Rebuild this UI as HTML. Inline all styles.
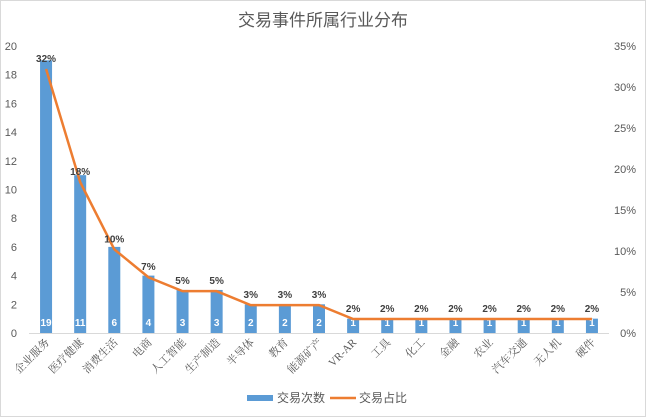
<!DOCTYPE html>
<html><head><meta charset="utf-8"><style>
body{margin:0;background:#fff}
svg{display:block;font-family:"Liberation Sans","Noto Sans CJK SC",sans-serif}
</style></head><body>
<svg width="646" height="417">
<rect x="0.5" y="0.5" width="645" height="416" fill="#fff" stroke="#d9d9d9"/>
<text x="323" y="26" text-anchor="middle" font-size="17" fill="#595959">交易事件所属行业分布</text>
<g id="g"></g>
<g>
<rect x="247" y="395" width="26" height="6" fill="#5b9bd5"/>
<text x="277" y="402" font-size="12" fill="#595959">交易次数</text>
<line x1="330" y1="398" x2="356" y2="398" stroke="#ed7d31" stroke-width="2.5"/>
<text x="359" y="402" font-size="12" fill="#595959">交易占比</text>
</g>
</svg>
<script>
const categories=["企业服务","医疗健康","消费生活","电商","人工智能","生产制造","半导体","教育","能源矿产","VR-AR","工具","化工","金融","农业","汽车交通","无人机","硬件"];
const counts=[19,11,6,4,3,3,2,2,2,1,1,1,1,1,1,1,1];
const shares=[32.2,18.4,10.2,6.8,5.1,5.1,3.4,3.4,3.4,1.7,1.7,1.7,1.7,1.7,1.7,1.7,1.7];
const leftTicks=[0,2,4,6,8,10,12,14,16,18,20];
const rightTicks=[0,5,10,15,20,25,30,35];
const NS="http://www.w3.org/2000/svg";
const g=document.getElementById('g');
const L=29,R=609,T=46,B=333;
const band=(R-L)/categories.length;
const xc=i=>L+band*(i+0.5);
const yL=v=>B-(v/20)*(B-T);
const yR=v=>B-(v/35)*(B-T);
function mk(t,a,txt){const e=document.createElementNS(NS,t);for(const k in a)e.setAttribute(k,a[k]);if(txt!=null)e.textContent=txt;g.appendChild(e);return e;}
leftTicks.forEach(v=>{const e=mk('text',{x:17,y:yL(v)+4,'text-anchor':'end','font-size':11,fill:'#595959'},v);

});
rightTicks.forEach(v=>{const e=mk('text',{x:636,y:yR(v)+4,'text-anchor':'end','font-size':11,fill:'#595959'},v+'%');

});
const ax=mk('line',{x1:L,y1:B+.5,x2:R,y2:B+.5,stroke:'#d9d9d9'});


counts.forEach((v,i)=>{
const r=mk('rect',{x:xc(i)-6,y:yL(v),width:12,height:B-yL(v),fill:'#5b9bd5'});


const t=mk('text',{x:xc(i),y:326,'text-anchor':'middle','font-size':10,'font-weight':'bold',fill:'#fff'},v);


const c=mk('text',{x:0,y:0,'text-anchor':'end','font-size':11,fill:'#595959','font-family':'"Liberation Serif","Noto Serif CJK SC",serif',transform:`translate(${xc(i)+4},${B+10}) rotate(-45)`},categories[i]);


});
const p=mk('polyline',{points:shares.map((v,i)=>xc(i)+','+yR(v)).join(' '),fill:'none',stroke:'#ed7d31','stroke-width':2.5});


shares.forEach((v,i)=>{const t=mk('text',{x:xc(i),y:yR(v)-7,'text-anchor':'middle','font-size':10,'font-weight':'bold',fill:'#404040'},Math.round(v)+'%');

});
</script>
</body></html>
